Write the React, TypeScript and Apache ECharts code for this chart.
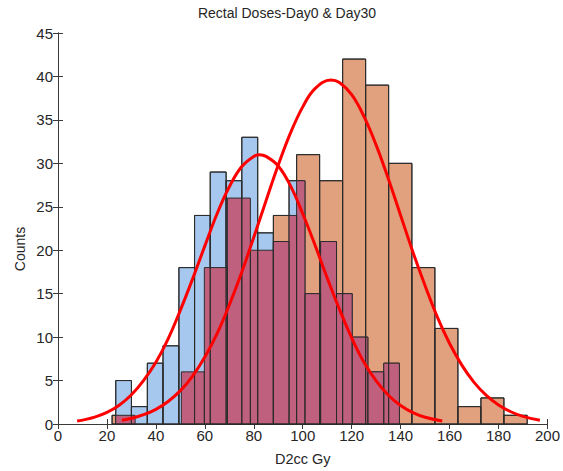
import React, { useEffect, useRef } from "react";
import * as echarts from "echarts";

// Histogram bin edges (D2cc Gy) and counts
const day0Edges = [23.6, 30.0, 36.5, 42.9, 49.4, 55.8, 62.2, 68.7, 75.1, 81.6, 88.0, 94.4, 100.9, 107.3, 113.8, 120.2, 126.6, 133.1, 139.5];
const day0Counts = [5, 2, 7, 9, 18, 24, 29, 28, 33, 22, 21, 28, 15, 21, 15, 10, 6, 7];

const day30Edges = [22.1, 31.5, 40.9, 50.4, 59.8, 69.2, 78.6, 88.0, 97.5, 106.9, 116.3, 125.7, 135.1, 144.6, 154.0, 163.4, 172.8, 182.2, 191.7];
const day30Counts = [1, 0, 0, 6, 18, 26, 20, 24, 31, 28, 42, 39, 30, 18, 11, 2, 3, 1];

// Fitted curves
const day0FitX = [7.8, 10, 15, 20, 25, 30, 35, 40, 45, 50, 55, 60, 65, 70, 75, 80, 82.4, 85, 90, 95, 100, 105, 110, 115, 120, 125, 130, 135, 140, 145, 150, 157];
const day0FitY = [0.34, 0.45, 0.79, 1.33, 2.15, 3.36, 5.03, 7.1, 9.8, 13.1, 16.7, 20.5, 24.2, 27.3, 29.6, 30.8, 31.0, 30.8, 29.7, 27.4, 24.2, 20.6, 16.8, 13.2, 9.9, 7.1, 4.96, 3.31, 2.12, 1.30, 0.77, 0.34];

const day30FitX = [26.1, 30, 35, 40, 45, 50, 55, 60, 65, 70, 75, 80, 85, 90, 95, 100, 105, 111.5, 115, 120, 125, 130, 135, 140, 145, 150, 155, 160, 165, 170, 175, 180, 185, 190, 196.9];
const day30FitY = [0.44, 0.66, 1.07, 1.69, 2.59, 3.84, 5.52, 7.71, 10.4, 13.7, 17.4, 21.5, 25.7, 29.8, 33.5, 36.5, 38.6, 39.6, 39.3, 37.9, 35.4, 32.1, 28.2, 24.0, 19.8, 15.9, 12.3, 9.27, 6.78, 4.79, 3.29, 2.19, 1.41, 0.88, 0.44];

const xTicks = [0, 20, 40, 60, 80, 100, 120, 140, 160, 180, 200];
const yTicks = [0, 5, 10, 15, 20, 25, 30, 35, 40, 45];

const FONT = "'Liberation Sans', Arial, Helvetica, sans-serif";
const TXT = "#262626";

function bins(edges: number[], counts: number[]) {
  const out: number[][] = [];
  counts.forEach((c, i) => {
    if (c > 0) out.push([edges[i], edges[i + 1], c]);
  });
  return out;
}

function overlaps(a: number[][], b: number[][]) {
  const out: number[][] = [];
  a.forEach((p) => {
    b.forEach((q) => {
      const l = Math.max(p[0], q[0]);
      const r = Math.min(p[1], q[1]);
      if (r > l) out.push([l, r, Math.min(p[2], q[2])]);
    });
  });
  return out;
}

function rectSeries(name: string, data: number[][], fill: string, stroke: string, z: number) {
  return {
    name,
    type: "custom",
    z,
    renderItem: (params: any, api: any) => {
      const x0 = api.value(0);
      const x1 = api.value(1);
      const h = api.value(2);
      const p0 = api.coord([x0, h]);
      const p1 = api.coord([x1, 0]);
      return {
        type: "rect",
        shape: { x: p0[0], y: p0[1], width: p1[0] - p0[0], height: p1[1] - p0[1] },
        style: { fill, stroke, lineWidth: stroke === "none" ? 0 : 1 },
      };
    },
    encode: { x: [0, 1], y: 2 },
    data,
  };
}

export default function App() {
  const ref = useRef<HTMLDivElement>(null);
  useEffect(() => {
    if (!ref.current) return;
    const chart = echarts.init(ref.current, undefined, { renderer: "svg" });
    const blue = bins(day0Edges, day0Counts);
    const orange = bins(day30Edges, day30Counts);
    const both = overlaps(blue, orange);
    const axisCommon = {
      type: "value",
      axisLine: { show: true, lineStyle: { color: "#3a3a3a", width: 1 } },
      splitLine: { show: false },
    };
    const tick = { show: true, inside: true, length: 5, lineStyle: { color: "#3a3a3a" } };
    chart.setOption({
      animation: false,
      backgroundColor: "#ffffff",
      grid: { left: 58, right: 11.5, top: 33, bottom: 44, containLabel: false },
      graphic: [
        {
          type: "text",
          x: 287,
          y: 13,
          style: {
            text: "Rectal Doses-Day0 & Day30",
            align: "center",
            verticalAlign: "middle",
            fill: TXT,
            font: `14px ${FONT}`,
          },
        },
        {
          type: "text",
          x: 20,
          y: 249,
          rotation: Math.PI / 2,
          style: {
            text: "Counts",
            align: "center",
            verticalAlign: "middle",
            fill: TXT,
            font: `14px ${FONT}`,
          },
        },
      ],
      xAxis: [
        {
          ...axisCommon,
          min: xTicks[0],
          max: xTicks[xTicks.length - 1],
          interval: 20,
          name: "D2cc Gy",
          nameLocation: "middle",
          nameGap: 27,
          nameTextStyle: { color: TXT, fontSize: 14.5, fontFamily: FONT },
          axisTick: tick,
          axisLabel: { color: TXT, fontSize: 15, fontFamily: FONT, margin: 4 },
        },
        {
          ...axisCommon,
          position: "top",
          min: xTicks[0],
          max: xTicks[xTicks.length - 1],
          interval: 20,
          axisTick: tick,
          axisLabel: { show: false },
        },
      ],
      yAxis: [
        {
          ...axisCommon,
          min: yTicks[0],
          max: yTicks[yTicks.length - 1],
          interval: 5,
          axisTick: tick,
          axisLabel: { color: TXT, fontSize: 15, fontFamily: FONT, margin: 5 },
        },
        {
          ...axisCommon,
          position: "right",
          min: yTicks[0],
          max: yTicks[yTicks.length - 1],
          interval: 5,
          axisTick: tick,
          axisLabel: { show: false },
        },
      ],
      series: [
        rectSeries("Day30", orange, "#E1A17F", "#2b2b2b", 2),
        rectSeries("Day0", blue, "#A6C8EF", "#2b2b2b", 3),
        rectSeries("Overlap", both, "#C0607F", "none", 4),
        rectSeries("Day30 edges", orange, "none", "#2b2b2b", 5),
        rectSeries("Day0 edges", blue, "none", "#2b2b2b", 6),
        {
          name: "Day0 fit",
          type: "line",
          z: 10,
          smooth: 0.4,
          showSymbol: false,
          lineStyle: { color: "#FF0000", width: 3 },
          data: day0FitX.map((x, i) => [x, day0FitY[i]]),
        },
        {
          name: "Day30 fit",
          type: "line",
          z: 10,
          smooth: 0.4,
          showSymbol: false,
          lineStyle: { color: "#FF0000", width: 3 },
          data: day30FitX.map((x, i) => [x, day30FitY[i]]),
        },
      ],
    });
    return () => chart.dispose();
  }, []);
  return (
    <div
      ref={ref}
      style={{ position: "fixed", left: 0, top: 0, width: 563, height: 471, background: "#fff" }}
    />
  );
}
